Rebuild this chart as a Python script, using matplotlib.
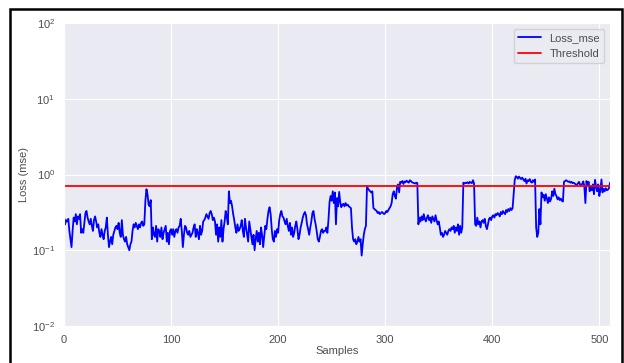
import numpy as np
import matplotlib
matplotlib.use("Agg")
import matplotlib.pyplot as plt
import seaborn as sns
from matplotlib.patches import Rectangle

# loss per sample
loss_mse = [
    0.28, 0.22, 0.25, 0.24, 0.26, 0.18, 0.14, 0.11, 0.18, 0.27, 0.24, 0.30, 0.22, 0.28, 0.26, 0.30, 0.17, 0.19, 0.17, 0.23,
    0.31, 0.33, 0.27, 0.24, 0.22, 0.26, 0.21, 0.18, 0.25, 0.28, 0.24, 0.20, 0.22, 0.17, 0.15, 0.19, 0.16, 0.14, 0.18, 0.20,
    0.27, 0.16, 0.11, 0.13, 0.15, 0.12, 0.16, 0.18, 0.20, 0.21, 0.19, 0.23, 0.17, 0.15, 0.25, 0.16, 0.14, 0.13, 0.15, 0.12,
    0.11, 0.10, 0.12, 0.13, 0.18, 0.22, 0.20, 0.23, 0.21, 0.19, 0.22, 0.20, 0.23, 0.24, 0.21, 0.22, 0.45, 0.64, 0.55, 0.40,
    0.38, 0.46, 0.14, 0.20, 0.16, 0.15, 0.21, 0.13, 0.19, 0.18, 0.15, 0.20, 0.14, 0.17, 0.19, 0.21, 0.13, 0.17, 0.12, 0.18,
    0.19, 0.16, 0.19, 0.15, 0.18, 0.19, 0.17, 0.20, 0.21, 0.26, 0.18, 0.11, 0.16, 0.21, 0.20, 0.17, 0.16, 0.18, 0.15, 0.16,
    0.17, 0.20, 0.22, 0.15, 0.19, 0.17, 0.14, 0.21, 0.16, 0.18, 0.24, 0.25, 0.27, 0.30, 0.28, 0.26, 0.31, 0.33, 0.30, 0.25,
    0.27, 0.24, 0.16, 0.22, 0.13, 0.20, 0.15, 0.25, 0.13, 0.19, 0.24, 0.33, 0.28, 0.22, 0.60, 0.42, 0.45, 0.38, 0.30, 0.25,
    0.20, 0.17, 0.22, 0.18, 0.19, 0.21, 0.25, 0.18, 0.15, 0.26, 0.20, 0.16, 0.13, 0.24, 0.19, 0.15, 0.12, 0.16, 0.10, 0.14,
    0.18, 0.13, 0.17, 0.12, 0.20, 0.16, 0.11, 0.15, 0.21, 0.19, 0.26, 0.33, 0.37, 0.30, 0.19, 0.14, 0.13, 0.18, 0.15, 0.19,
    0.17, 0.25, 0.30, 0.33, 0.28, 0.27, 0.24, 0.22, 0.26, 0.21, 0.18, 0.23, 0.16, 0.20, 0.15, 0.17, 0.21, 0.24, 0.19, 0.14,
    0.16, 0.20, 0.23, 0.27, 0.30, 0.32, 0.29, 0.22, 0.19, 0.16, 0.20, 0.24, 0.31, 0.33, 0.26, 0.22, 0.18, 0.14, 0.13, 0.15,
    0.18, 0.19, 0.17, 0.18, 0.18, 0.20, 0.17, 0.25, 0.43, 0.52, 0.45, 0.60, 0.42, 0.58, 0.22, 0.49, 0.38, 0.59, 0.43, 0.37,
    0.40, 0.41, 0.38, 0.42, 0.39, 0.40, 0.38, 0.37, 0.36, 0.20, 0.14, 0.13, 0.14, 0.12, 0.13, 0.15, 0.13, 0.14, 0.085, 0.12,
    0.16, 0.19, 0.21, 0.70, 0.65, 0.62, 0.60, 0.58, 0.60, 0.36, 0.35, 0.34, 0.33, 0.31, 0.32, 0.30, 0.31, 0.32, 0.31, 0.30,
    0.31, 0.33, 0.32, 0.34, 0.36, 0.38, 0.42, 0.55, 0.60, 0.52, 0.48, 0.68, 0.74, 0.58, 0.80, 0.78, 0.82, 0.75, 0.81, 0.79,
    0.83, 0.80, 0.78, 0.84, 0.82, 0.79, 0.78, 0.77, 0.76, 0.78, 0.77, 0.22, 0.27, 0.24, 0.28, 0.25, 0.30, 0.26, 0.24, 0.27,
    0.29, 0.25, 0.27, 0.23, 0.28, 0.26, 0.24, 0.29, 0.25, 0.22, 0.24, 0.20, 0.16, 0.17, 0.15, 0.16, 0.18, 0.17, 0.16, 0.18,
    0.19, 0.18, 0.20, 0.19, 0.21, 0.17, 0.20, 0.18, 0.22, 0.16, 0.21, 0.17, 0.20, 0.78, 0.76, 0.78, 0.77, 0.79, 0.76, 0.80,
    0.78, 0.77, 0.84, 0.76, 0.22, 0.21, 0.27, 0.22, 0.24, 0.20, 0.24, 0.25, 0.23, 0.26, 0.21, 0.19, 0.22, 0.26, 0.27, 0.25,
    0.28, 0.29, 0.27, 0.30, 0.29, 0.31, 0.30, 0.28, 0.32, 0.30, 0.33, 0.31, 0.30, 0.34, 0.32, 0.35, 0.33, 0.36, 0.34, 0.36,
    0.55, 0.85, 0.95, 0.93, 0.88, 0.94, 0.90, 0.87, 0.91, 0.86, 0.82, 0.88, 0.76, 0.84, 0.82, 0.87, 0.80, 0.78, 0.84, 0.80,
    0.86, 0.20, 0.15, 0.17, 0.35, 0.22, 0.58, 0.50, 0.54, 0.45, 0.55, 0.48, 0.42, 0.50, 0.44, 0.48, 0.60, 0.52, 0.65, 0.55,
    0.52, 0.47, 0.50, 0.46, 0.48, 0.45, 0.44, 0.80, 0.82, 0.84, 0.82, 0.80, 0.81, 0.78, 0.80, 0.77, 0.78, 0.76, 0.74, 0.73,
    0.76, 0.80, 0.74, 0.73, 0.75, 0.81, 0.70, 0.42, 0.82, 0.72, 0.80, 0.60, 0.70, 0.62, 0.74, 0.55, 0.85, 0.68, 0.60, 0.74,
    0.52, 0.62, 0.86, 0.58, 0.65, 0.60, 0.66, 0.62, 0.63, 0.66, 0.78,
]
threshold = 0.71
samples = np.arange(len(loss_mse))

sns.set_style("darkgrid")
plt.rcParams['font.family'] = ['Liberation Sans', 'DejaVu Sans']

fig = plt.figure(figsize=(6.24, 3.63), dpi=100)
ax = fig.add_axes([0.1026, 0.1019, 0.875, 0.8347])

ax.plot(samples, loss_mse, color='blue', linewidth=1.3, label='Loss_mse')
ax.axhline(threshold, color='red', linewidth=1.3, label='Threshold')

ax.set_yscale('log')
ax.set_ylim(1e-2, 1e2)
ax.set_xlim(0, len(loss_mse) - 1)
ax.set_xticks([0, 100, 200, 300, 400, 500])
ax.tick_params(labelsize=8, colors='.3', pad=3)
ax.set_xlabel('Samples', fontsize=8, color='.3', labelpad=1)
ax.set_ylabel('Loss (mse)', fontsize=8, color='.3', labelpad=2)
leg = ax.legend(loc='upper right', fontsize=8)
for t in leg.get_texts():
    t.set_color('.3')

# black frame round the figure
fig.add_artist(Rectangle((10 / 624, -0.05), 612 / 624, 1.05 - 9 / 363,
                         transform=fig.transFigure, fill=False,
                         edgecolor='black', linewidth=1.8))

plt.savefig('out.png', dpi=100)
